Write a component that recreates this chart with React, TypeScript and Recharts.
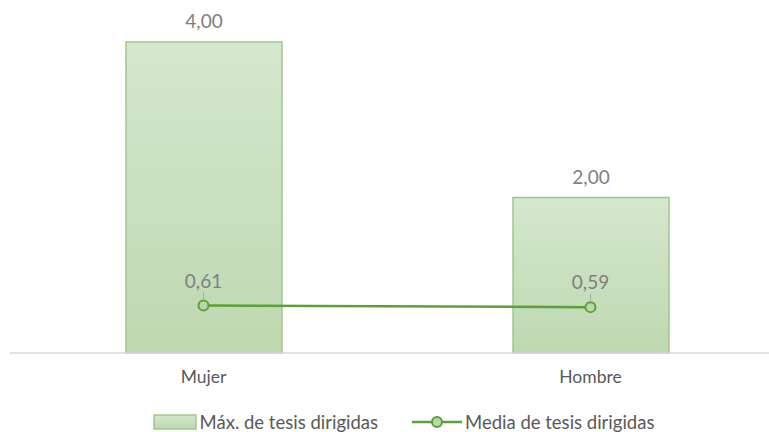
import React from "react";
import { ComposedChart, Bar, Line, XAxis, YAxis, LabelList } from "recharts";

const categories = ["Mujer", "Hombre"];
const maxTesis = [4.0, 2.0];
const mediaTesis = [0.61, 0.59];
const seriesNames = ["Máx. de tesis dirigidas", "Media de tesis dirigidas"];

const data = categories.map((c, i) => ({ name: c, max: maxTesis[i], media: mediaTesis[i] }));

const FONT = "Lato, 'Open Sans', sans-serif";
const fmt = (v: number) => v.toFixed(2).replace(".", ",");

const BarLabel = (props: any) => {
  const { x, y, width, value } = props;
  return (
    <text x={x + width / 2} y={y - 14} textAnchor="middle" fill="#808080" fontSize={19} fontFamily={FONT}>
      {fmt(value)}
    </text>
  );
};

const LineLabel = (props: any) => {
  const { x, y, value } = props;
  return (
    <g>
      <line x1={x} y1={y - 13} x2={x} y2={y - 5} stroke="#a6a6a6" strokeWidth={1} />
      <text x={x} y={y - 18} textAnchor="middle" fill="#808080" fontSize={19} fontFamily={FONT}>
        {fmt(value)}
      </text>
    </g>
  );
};

export default function App() {
  return (
    <div style={{ position: "absolute", left: 0, top: 0, width: 769, height: 432, overflow: "hidden", background: "#fff" }}>
      <ComposedChart width={790} height={432} data={data} margin={{ top: 42, right: 6, left: 10, bottom: 0 }}>
        <defs>
          <linearGradient id="barGrad" x1="0" y1="0" x2="0" y2="1">
            <stop offset="0%" stopColor="#d5e7cd" />
            <stop offset="100%" stopColor="#bed8b1" />
          </linearGradient>
        </defs>
        <XAxis
          dataKey="name"
          axisLine={{ stroke: "#d9d9d9", strokeWidth: 1.5 }}
          tickLine={false}
          height={79}
          tickMargin={12}
          tick={{ fill: "#595959", fontSize: 17.5, fontFamily: FONT }}
        />
        <YAxis hide domain={[0, 4]} />
        <Bar dataKey="max" barSize={156} fill="url(#barGrad)" stroke="#9fc78c" strokeWidth={1.5} isAnimationActive={false}>
          <LabelList dataKey="max" content={BarLabel} />
        </Bar>
        <Line
          dataKey="media"
          stroke="#5e9e3c"
          strokeWidth={2.5}
          dot={{ r: 5, fill: "#b9d7a8", stroke: "#5e9e3c", strokeWidth: 2 }}
          isAnimationActive={false}
        >
          <LabelList dataKey="media" content={LineLabel} />
        </Line>
      </ComposedChart>
      <div style={{ position: "absolute", top: 411, left: 0, width: 769, paddingLeft: 38, boxSizing: "border-box", display: "flex", justifyContent: "center", fontFamily: FONT, fontSize: 18.5, color: "#595959", alignItems: "center", whiteSpace: "nowrap" }}>
        <svg width={44} height={16} style={{ marginRight: 3 }}>
          <defs>
            <linearGradient id="barGradL" x1="0" y1="0" x2="0" y2="1">
              <stop offset="0%" stopColor="#d5e7cd" />
              <stop offset="100%" stopColor="#bed8b1" />
            </linearGradient>
          </defs>
          <rect x={1} y={1} width={42} height={14} fill="url(#barGradL)" stroke="#9fc78c" strokeWidth={1.5} />
        </svg>
        <span style={{ marginRight: 34 }}>{seriesNames[0]}</span>
        <svg width={50} height={16} style={{ marginRight: 3 }}>
          <line x1={0} y1={8} x2={50} y2={8} stroke="#5e9e3c" strokeWidth={2.5} />
          <circle cx={25} cy={8} r={5} fill="#b9d7a8" stroke="#5e9e3c" strokeWidth={2} />
        </svg>
        <span>{seriesNames[1]}</span>
      </div>
    </div>
  );
}
